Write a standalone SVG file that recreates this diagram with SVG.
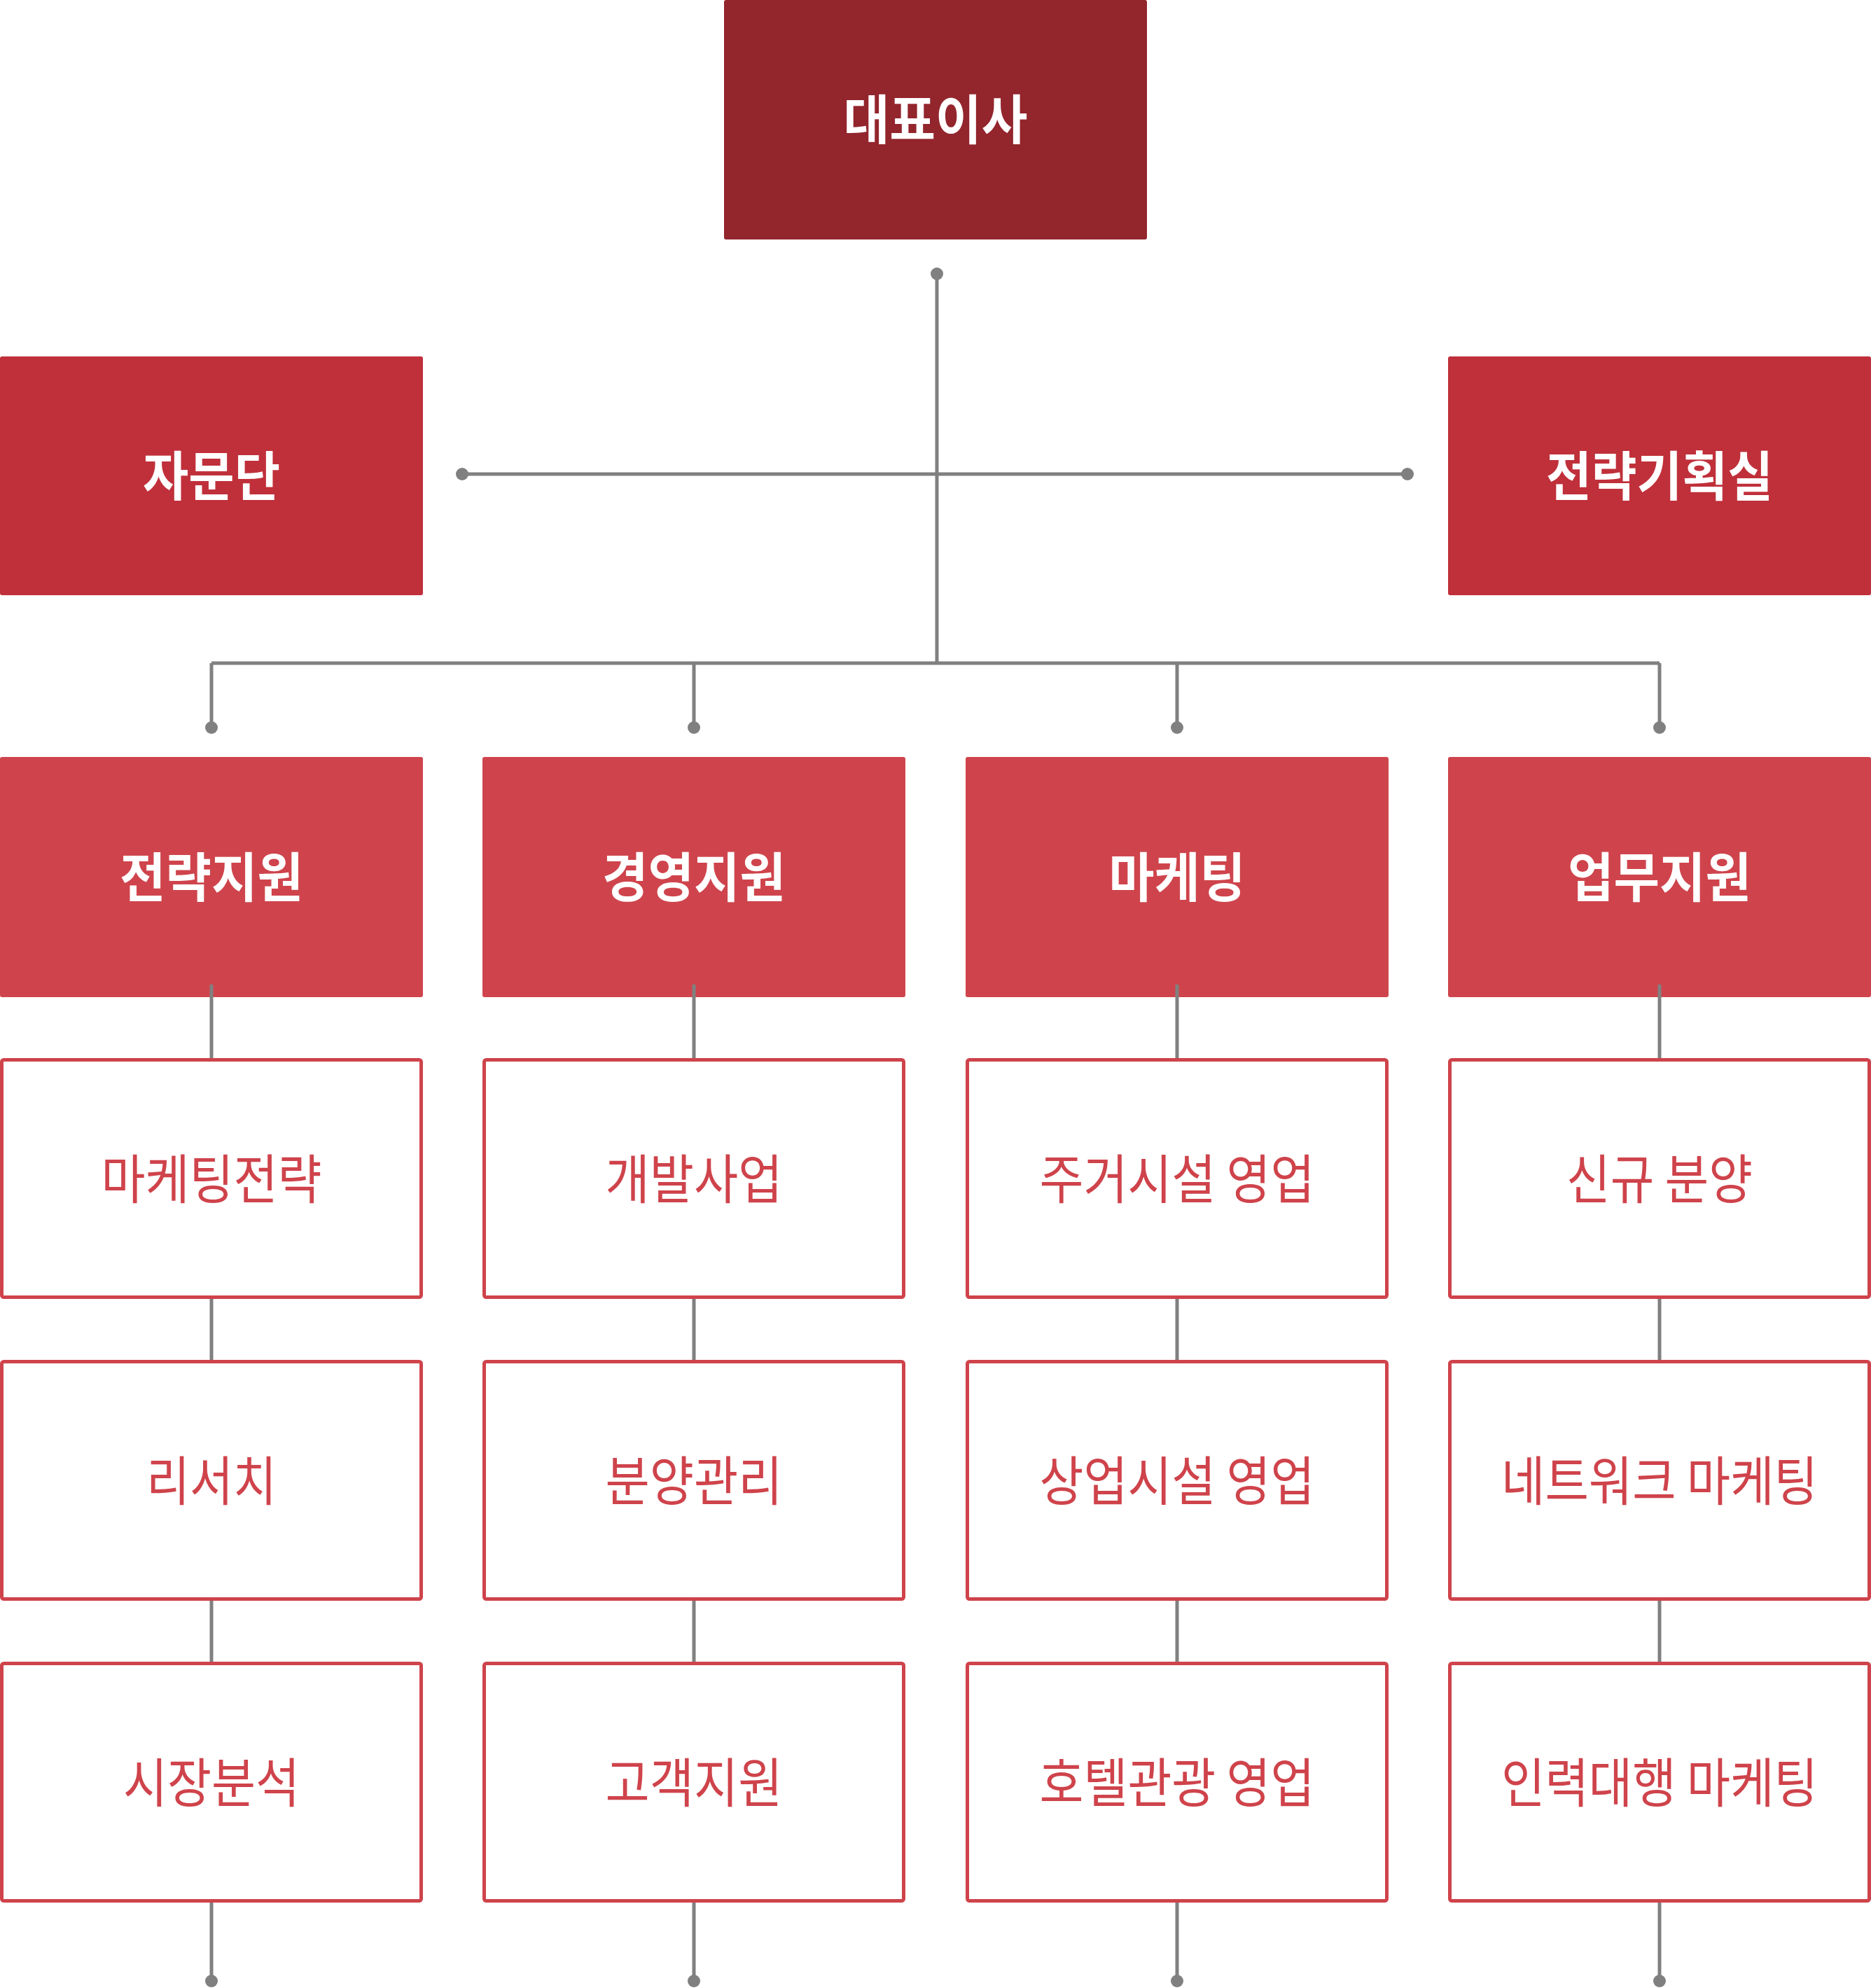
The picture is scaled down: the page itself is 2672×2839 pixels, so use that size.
<svg xmlns="http://www.w3.org/2000/svg" width="2672" height="2839" viewBox="0 0 2672 2839">
<style>
text{font-family:"Noto Sans CJK KR","Noto Sans",sans-serif;font-size:76px;text-anchor:middle;dominant-baseline:central}
.b{font-weight:700;fill:#ffffff}
.r{font-weight:400;fill:#CF434B}
.top{fill:#93252D}
.l1{fill:#C0303A}
.l2{fill:#CF444C}
.l3{fill:#ffffff;stroke:#CF434B;stroke-width:5}
.c{stroke:#808080;stroke-width:5;fill:none}
.d{fill:#808080}
</style>
<rect width="2672" height="2839" fill="#ffffff"/>
<g id="n-ceo"><rect class="top" x="1034" y="0" width="604" height="342" rx="3"/><text class="b" x="1336" y="166" textLength="263" lengthAdjust="spacingAndGlyphs">대표이사</text></g>
<g id="n-advisory"><rect class="l1" x="0" y="509" width="604" height="341" rx="3"/><text class="b" x="302" y="675" textLength="196" lengthAdjust="spacingAndGlyphs">자문단</text></g>
<g id="n-planning"><rect class="l1" x="2068" y="509" width="604" height="341" rx="3"/><text class="b" x="2370" y="675" textLength="324" lengthAdjust="spacingAndGlyphs">전략기획실</text></g>

<g id="n-strategy"><rect class="l2" x="0" y="1081" width="604" height="343" rx="3"/><text class="b" x="302" y="1248" textLength="262" lengthAdjust="spacingAndGlyphs">전략지원</text></g>
<g id="n-management"><rect class="l2" x="689" y="1081" width="604" height="343" rx="3"/><text class="b" x="991" y="1248" textLength="262" lengthAdjust="spacingAndGlyphs">경영지원</text></g>
<g id="n-marketing"><rect class="l2" x="1379" y="1081" width="604" height="343" rx="3"/><text class="b" x="1681" y="1248" textLength="195" lengthAdjust="spacingAndGlyphs">마케팅</text></g>
<g id="n-business"><rect class="l2" x="2068" y="1081" width="604" height="343" rx="3"/><text class="b" x="2370" y="1248" textLength="262" lengthAdjust="spacingAndGlyphs">업무지원</text></g>

<g id="n-mkt-strategy"><rect class="l3" x="2.5" y="1513.5" width="599" height="339" rx="3"/><text class="r" x="302" y="1679" textLength="315" lengthAdjust="spacingAndGlyphs">마케팅전략</text></g>
<g id="n-research"><rect class="l3" x="2.5" y="1944.5" width="599" height="339" rx="3"/><text class="r" x="302" y="2110" textLength="186" lengthAdjust="spacingAndGlyphs">리서치</text></g>
<g id="n-market-analysis"><rect class="l3" x="2.5" y="2375.5" width="599" height="339" rx="3"/><text class="r" x="302" y="2541" textLength="252" lengthAdjust="spacingAndGlyphs">시장분석</text></g>

<g id="n-development"><rect class="l3" x="691.5" y="1513.5" width="599" height="339" rx="3"/><text class="r" x="991" y="1679" textLength="253" lengthAdjust="spacingAndGlyphs">개발사업</text></g>
<g id="n-sales-mgmt"><rect class="l3" x="691.5" y="1944.5" width="599" height="339" rx="3"/><text class="r" x="991" y="2110" textLength="253" lengthAdjust="spacingAndGlyphs">분양관리</text></g>
<g id="n-customer"><rect class="l3" x="691.5" y="2375.5" width="599" height="339" rx="3"/><text class="r" x="991" y="2541" textLength="253" lengthAdjust="spacingAndGlyphs">고객지원</text></g>

<g id="n-residential"><rect class="l3" x="1381.5" y="1513.5" width="599" height="339" rx="3"/><text class="r" x="1681" y="1679" textLength="393" lengthAdjust="spacingAndGlyphs">주거시설 영업</text></g>
<g id="n-commercial"><rect class="l3" x="1381.5" y="1944.5" width="599" height="339" rx="3"/><text class="r" x="1681" y="2110" textLength="393" lengthAdjust="spacingAndGlyphs">상업시설 영업</text></g>
<g id="n-hotel"><rect class="l3" x="1381.5" y="2375.5" width="599" height="339" rx="3"/><text class="r" x="1681" y="2541" textLength="393" lengthAdjust="spacingAndGlyphs">호텔관광 영업</text></g>

<g id="n-new-sales"><rect class="l3" x="2070.5" y="1513.5" width="599" height="339" rx="3"/><text class="r" x="2370" y="1679" textLength="266" lengthAdjust="spacingAndGlyphs">신규 분양</text></g>
<g id="n-network"><rect class="l3" x="2070.5" y="1944.5" width="599" height="339" rx="3"/><text class="r" x="2370" y="2110" textLength="452" lengthAdjust="spacingAndGlyphs">네트워크 마케팅</text></g>
<g id="n-staffing"><rect class="l3" x="2070.5" y="2375.5" width="599" height="339" rx="3"/><text class="r" x="2370" y="2541" textLength="452" lengthAdjust="spacingAndGlyphs">인력대행 마케팅</text></g>

<g id="connectors">
<path class="c" d="M1338 391V947M660 677H2010M302 947H2370M302 947V1039M991 947V1039M1681 947V1039M2370 947V1039"/>
<path class="c" d="M302 1406V1511M302 1855V1942M302 2286V2373M302 2717V2829M991 1406V1511M991 1855V1942M991 2286V2373M991 2717V2829M1681 1406V1511M1681 1855V1942M1681 2286V2373M1681 2717V2829M2370 1406V1511M2370 1855V1942M2370 2286V2373M2370 2717V2829"/>
<circle class="d" cx="1338" cy="391" r="9"/>
<circle class="d" cx="660" cy="677" r="9"/>
<circle class="d" cx="2010" cy="677" r="9"/>
<circle class="d" cx="302" cy="1039" r="9"/>
<circle class="d" cx="991" cy="1039" r="9"/>
<circle class="d" cx="1681" cy="1039" r="9"/>
<circle class="d" cx="2370" cy="1039" r="9"/>
<circle class="d" cx="302" cy="2829" r="9"/>
<circle class="d" cx="991" cy="2829" r="9"/>
<circle class="d" cx="1681" cy="2829" r="9"/>
<circle class="d" cx="2370" cy="2829" r="9"/>
</g>
</svg>
